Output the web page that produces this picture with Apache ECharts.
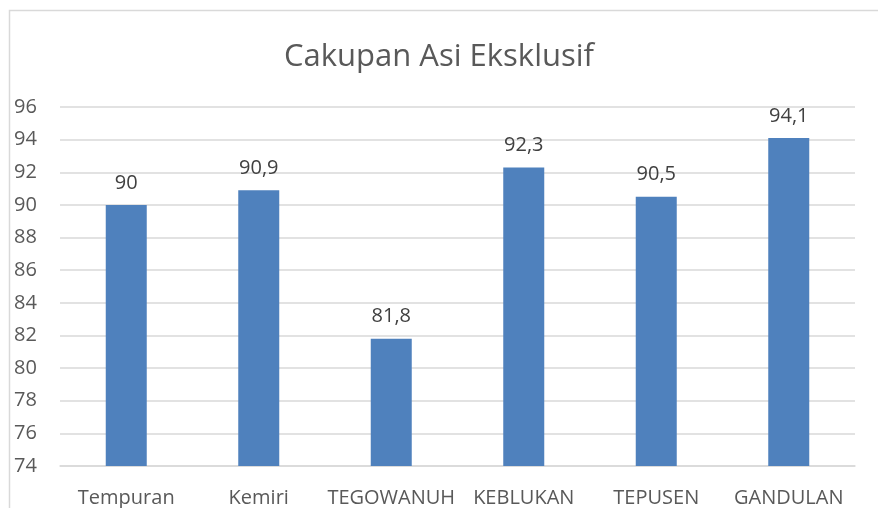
<!DOCTYPE html>
<html>
<head>
<meta charset="utf-8">
<script src="https://cdn.jsdelivr.net/npm/echarts@6/dist/echarts.min.js"></script>
<style>
  html, body { margin: 0; padding: 0; background: #fff; }
  #chart { width: 878px; height: 508px; }
</style>
</head>
<body>
<div id="chart"></div>
<script>
  const categories = ['Tempuran', 'Kemiri', 'TEGOWANUH', 'KEBLUKAN', 'TEPUSEN', 'GANDULAN']
  const values = [90, 90.9, 81.8, 92.3, 90.5, 94.1]
  const yMin = 74
  const yMax = 96
  const yStep = 2

  const chart = echarts.init(document.getElementById('chart'))
  const font = '"Open Sans", "Noto Sans", sans-serif'

  chart.setOption({
    animation: false,
    textStyle: { fontFamily: font },
    title: {
      text: 'Cakupan Asi Eksklusif',
      left: 'center',
      top: 37,
      textStyle: { fontSize: 31, fontWeight: 'normal', color: '#595959', fontFamily: font }
    },
    graphic: [{
      type: 'rect',
      shape: { x: 9.5, y: 10.5, width: 900, height: 600 },
      style: { fill: 'none', stroke: '#d9d9d9', lineWidth: 1.5 },
      silent: true
    }],
    grid: { left: 60, right: 23, top: 107, bottom: 41, containLabel: false },
    xAxis: {
      type: 'category',
      data: categories,
      axisTick: { show: false },
      axisLine: { lineStyle: { color: '#d9d9d9', width: 1.5 } },
      axisLabel: { color: '#595959', fontSize: 20, margin: 22, interval: 0, fontFamily: font }
    },
    yAxis: {
      type: 'value',
      min: yMin,
      max: yMax,
      interval: yStep,
      axisLine: { show: false },
      axisTick: { show: false },
      axisLabel: { color: '#595959', fontSize: 20, margin: 46, align: 'left', fontFamily: font },
      splitLine: { lineStyle: { color: '#d9d9d9', width: 1.5 } }
    },
    series: [{
      type: 'bar',
      data: values,
      barWidth: 41,
      itemStyle: { color: '#4f81bd' },
      label: {
        show: true,
        position: 'top',
        distance: 12,
        color: '#404040',
        fontSize: 20,
        fontFamily: font,
        formatter: p => String(p.value).replace('.', ',')
      }
    }]
  })
</script>
</body>
</html>
